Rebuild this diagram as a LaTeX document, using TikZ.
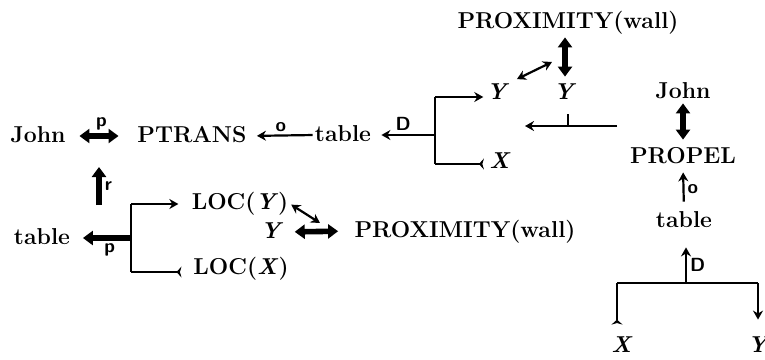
\documentclass[tikz,border=0pt]{standalone}
\usepackage{tikz}
\usetikzlibrary{arrows.meta,calc}

\tikzset{
	word/.style={font=\fontsize{11.5}{13}\selectfont\bfseries, inner sep=0pt, text height=8pt, text depth=2pt},
	tag/.style={font=\fontsize{9.5}{10}\selectfont\sffamily\bfseries, inner sep=1.5pt},
	thinline/.style={line width=1.1pt},
	thinarr/.style={thinline, -{Stealth[length=4.5pt,width=5pt]}},
	thinboth/.style={thinline, {Stealth[length=4.5pt,width=5pt]}-{Stealth[length=4.5pt,width=5pt]}},
	tailarr/.style={thinline, -{Stealth[reversed,length=2.5pt,width=5.5pt]}},
	fatarr/.style={line width=2.8pt, -{Triangle[length=5pt,width=7pt]}},
	fatboth/.style={line width=2.8pt, {Triangle[length=5pt,width=7pt]}-{Triangle[length=5pt,width=7pt]}},
}

\begin{document}
\begin{tikzpicture}[x=0.5pt,y=-0.5pt]
			%%%%% START %%%%%
			\useasboundingbox (0,0) rectangle (765,359);
			
			\node[word] (john1) at (38,136) {John};
			\node[word] (ptrans) at (192,136) {PTRANS};
			\node[word] (table1) at (343,135) {table};
			
			\node[word] (prox1) at (568,22) {PROXIMITY(wall)};
			\node[word] (y1) at (498,93) {\textit{Y}};
			\node[word] (y2) at (565,93) {\textit{Y}};
			\node[word] (x1) at (500,162) {\textit{X}};
			
			\node[word] (john2) at (683,92) {John};
			\node[word] (propel) at (683,157) {PROPEL};
			\node[word] (table2) at (684,221) {table};
			\node[word] (x2) at (622,346) {\textit{X}};
			\node[word] (y3) at (759,346) {\textit{Y}};
			
			\node[word] (table3) at (42,238) {table};
			\node[word] (locy) at (240,203) {LOC(\textit{Y})};
			\node[word] (locx) at (241,268) {LOC(\textit{X})};
			\node[word] (y4) at (272,232) {\textit{Y}};
			\node[word] (prox2) at (465,231) {PROXIMITY(wall)};
			
			\coordinate (dm) at (435,135);
			\coordinate (dt) at (435,97);
			\coordinate (db) at (435,164);
			\coordinate (pxa) at (552,62);
			\coordinate (cr) at (617,126);
			\coordinate (cl) at (525,126);
			\coordinate (ct) at (568,126);
			\coordinate (bm) at (686,283);
			\coordinate (bl) at (617,283);
			\coordinate (br) at (758,283);
			\coordinate (ra) at (99,205);
			\coordinate (rb) at (99,167);
			\coordinate (lm) at (131,238);
			\coordinate (lt) at (131,204);
			\coordinate (lb) at (131,272);
			\coordinate (pyb) at (320,223);
			
			% top line
			\draw[fatboth, shorten <=6.75pt, shorten >=9.25pt] (john1.east) -- node[tag, above] {p} (ptrans.west);
			\draw[thinarr, shorten <=1pt, shorten >=5pt] (table1.west) -- node[tag, above] {o} (ptrans.east);
			\draw[thinarr, shorten >=5pt] (dm) -- node[tag, above] {D} (table1.east);
			\draw[thinline] (dt) -- (db);
			\draw[thinarr, shorten >=1.5pt] (dt) -- (dt -| y1.west);
			\draw[tailarr, shorten >=2.5pt] (db) -- (db -| x1.west);
			
			\draw[fatboth, shorten <=2.5pt, shorten >=3pt] (prox1.south -| y2) -- (y2.north);
			\draw[thinboth, shorten <=4pt] (y1.north east) -- (pxa);
			\draw[thinarr] (cr) -- (cl);
			\draw[thinline] (ct) -- ++(0,-12);
			
			% right column
			\draw[fatboth, shorten <=0.5pt, shorten >=3.5pt] (john2.south) -- (propel.north);
			\draw[thinarr, shorten <=4.5pt, shorten >=2.5pt] (table2.north) -- node[tag, right] {o} (propel.south);
			\draw[thinarr, shorten >=8pt] (bm) -- node[tag, right, pos=0.35] {D} (bm |- table2.south);
			\draw[thinline] (bl) -- (br);
			\draw[tailarr, shorten >=5.5pt] (bl) -- (bl |- x2.north);
			\draw[thinarr, shorten >=8pt] (br) -- (br |- y3.north);
			
			% lower left
			\draw[fatarr] (ra) -- node[tag, right] {r} (rb);
			\draw[fatarr, shorten >=6.25pt] (lm) -- node[tag, below, pos=0.35] {p} (table3.east);
			\draw[thinline] (lt) -- (lb);
			\draw[thinarr, shorten >=6.5pt] (lt) -- (lt -| locy.west);
			\draw[tailarr, shorten >=5.75pt] (lb) -- (lb -| locx.west);
			\draw[thinboth, shorten <=1.5pt] (locy.east) -- (pyb);
			\draw[fatboth, shorten <=5.5pt, shorten >=8pt] (y4.east) -- (prox2.west);
			
			%%%%% END %%%%%
\end{tikzpicture}
\end{document}
